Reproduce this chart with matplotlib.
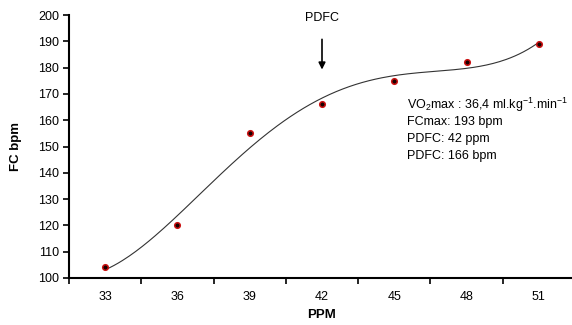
import matplotlib
matplotlib.use("Agg")
import matplotlib.pyplot as plt
import numpy as np

plt.rcParams["font.family"] = ["Liberation Sans", "DejaVu Sans"]
plt.rcParams["mathtext.fontset"] = "custom"
plt.rcParams["mathtext.rm"] = "Liberation Sans"
plt.rcParams["mathtext.it"] = "Liberation Sans"

# data
ppm_labels = ["33", "36", "39", "42", "45", "48", "51"]
fc_bpm = [104, 120, 155, 166, 175, 182, 189]
y_ticks = [100, 110, 120, 130, 140, 150, 160, 170, 180, 190, 200]

x = np.arange(len(ppm_labels))

fig = plt.figure(figsize=(5.72, 3.25), dpi=100)
ax = fig.add_axes([69 / 572, 1 - 278 / 325, 506 / 572, 263 / 325])

# polynomial trend line (order 4, like Excel)
coef = np.polyfit(x, fc_bpm, 4)
xs = np.linspace(x[0], x[-1], 200)
ax.plot(xs, np.polyval(coef, xs), color="#333333", lw=0.8, zorder=2)

ax.plot(x, fc_bpm, "o", ms=4, mfc="#1a0000", mec="#cc1111", mew=1.1, zorder=3)

ax.set_xlim(-0.5, len(ppm_labels) - 0.5)
ax.set_ylim(100, 200)
ax.set_yticks(y_ticks)
ax.set_xticks(x)
ax.set_xticklabels(ppm_labels)
ax.set_xticks(np.arange(-0.5, len(ppm_labels), 1), minor=True)
ax.tick_params(axis="x", which="major", length=0, pad=9, labelsize=9)
ax.tick_params(axis="x", which="minor", length=4, width=1.2)
ax.tick_params(axis="y", length=4, width=1.2, labelsize=9, pad=3)

for s in ["top", "right"]:
    ax.spines[s].set_visible(False)
for s in ["left", "bottom"]:
    ax.spines[s].set_linewidth(1.5)

ax.set_xlabel("PPM", fontsize=9.5, fontweight="bold", labelpad=5)
ax.set_ylabel("FC bpm", fontsize=9.5, fontweight="bold", labelpad=12)

# PDFC arrow
ax.annotate("", xy=(3, 178.2), xytext=(3, 191.8),
            arrowprops=dict(arrowstyle="-|>", color="black", lw=1.2,
                            mutation_scale=10), annotation_clip=False)
ax.text(3, 198.8, "PDFC", ha="center", va="center", fontsize=9)

info = [r"VO$_{2}$max : 36,4 ml.kg$^{-1}$.min$^{-1}$",
        "FCmax: 193 bpm",
        "PDFC: 42 ppm",
        "PDFC: 166 bpm"]
for i, line in enumerate(info):
    ax.text(4.17, 166.0 - i * 6.6, line, fontsize=9, va="center", ha="left")

fig.savefig("out.png", dpi=100)
